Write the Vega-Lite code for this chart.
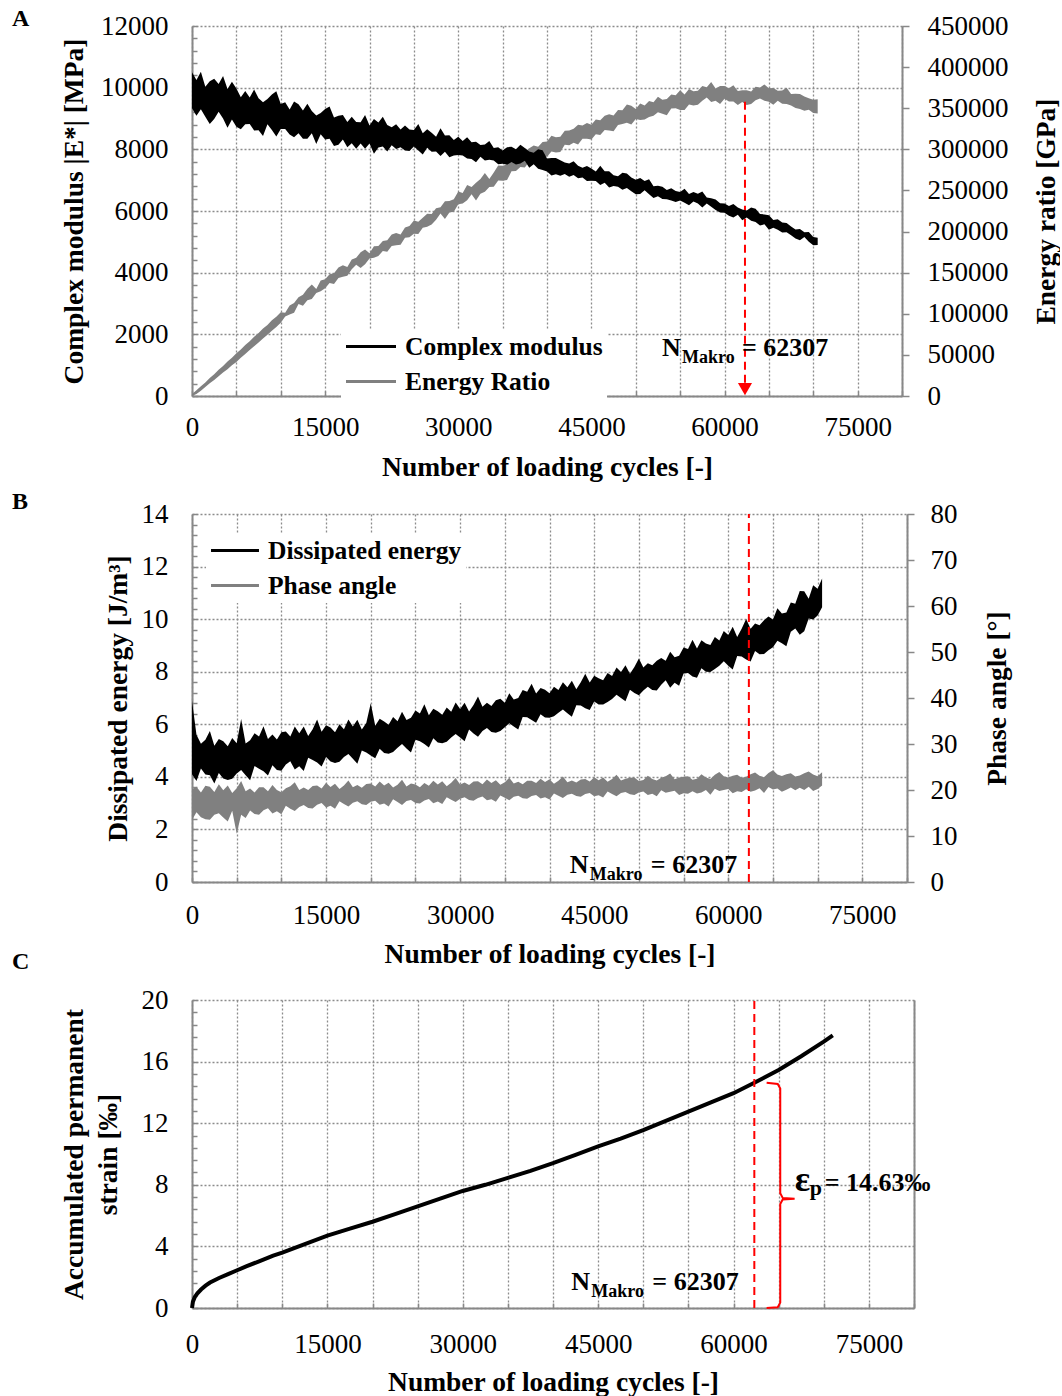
{
  "$schema": "https://vega.github.io/schema/vega-lite/v6.json",
  "padding": {"left": 12, "top": 7, "right": 0, "bottom": 0},
  "background": "white",
  "config": {
    "font": "Liberation Serif",
    "view": {"stroke": null},
    "axis": {"labelFont": "Liberation Serif", "labelFontSize": 27, "labelColor": "#000", "titleFont": "Liberation Serif", "titleFontSize": 27.5, "titleFontWeight": "bold", "titleColor": "#000", "domainColor": "#888", "domainWidth": 2, "tickColor": "#888", "tickWidth": 1.5, "gridColor": "#8c8c8c", "gridDash": [2, 2], "gridWidth": 1.3, "labelFlush": false, "labelOverlap": false, "labelBound": false, "tickCount": 200},
    "legend": {"labelFont": "Liberation Serif", "labelFontSize": 25.5, "labelFontWeight": "bold", "labelColor": "#000", "labelLimit": 500},
    "title": {"font": "Liberation Serif", "fontSize": 24, "fontWeight": "bold", "color": "#000", "anchor": "start", "frame": "group"}
  },
  "resolve": {"scale": {"color": "independent"}, "legend": {"color": "independent"}},
  "bounds": "flush",
  "spacing": 118,
  "datasets": {
    "a": [
{"n":0,"cl":9330,"ch":10500,"el":0,"eh":2500},{"n":500,"cl":9090,"ch":10250,"el":2500,"eh":7000},{"n":1000,"cl":9300,"ch":10520,"el":6500,"eh":12000},{"n":1500,"cl":9060,"ch":10030,"el":11000,"eh":16500},{"n":2000,"cl":8820,"ch":10210,"el":15500,"eh":22000},{"n":2500,"cl":8980,"ch":10290,"el":19500,"eh":26500},{"n":3000,"cl":9220,"ch":10120,"el":24000,"eh":32000},{"n":3500,"cl":9000,"ch":10380,"el":28500,"eh":36500},{"n":4000,"cl":8700,"ch":9960,"el":32500,"eh":42000},{"n":4500,"cl":8970,"ch":10190,"el":37500,"eh":46500},
{"n":5000,"cl":8730,"ch":9970,"el":41500,"eh":52000},{"n":5500,"cl":8650,"ch":9690,"el":46500,"eh":56500},{"n":6000,"cl":8810,"ch":9890,"el":51000,"eh":62000},{"n":6500,"cl":8820,"ch":9680,"el":56000,"eh":66500},{"n":7000,"cl":8610,"ch":9940,"el":60500,"eh":72000},{"n":7500,"cl":8620,"ch":9660,"el":65000,"eh":76500},{"n":8000,"cl":8430,"ch":9530,"el":70000,"eh":82000},{"n":8500,"cl":8810,"ch":9630,"el":74500,"eh":86500},{"n":9000,"cl":8630,"ch":9780,"el":79500,"eh":92000},{"n":9500,"cl":8420,"ch":9880,"el":84000,"eh":96500},
{"n":10000,"cl":8660,"ch":9470,"el":89000,"eh":102000},{"n":10500,"cl":8660,"ch":9530,"el":96800,"eh":101200},{"n":11000,"cl":8480,"ch":9290,"el":99100,"eh":110100},{"n":11500,"cl":8390,"ch":9550,"el":101200,"eh":113000},{"n":12000,"cl":8520,"ch":9460,"el":111800,"eh":120200},{"n":12500,"cl":8340,"ch":9260,"el":109700,"eh":123200},{"n":13000,"cl":8340,"ch":9480,"el":116600,"eh":130400},{"n":13500,"cl":8520,"ch":9240,"el":118000,"eh":135600},{"n":14000,"cl":8170,"ch":9100,"el":125300,"eh":130200},{"n":14500,"cl":8490,"ch":9180,"el":127400,"eh":140400},
{"n":15000,"cl":8320,"ch":9310,"el":130900,"eh":141900},{"n":15500,"cl":8340,"ch":9390,"el":137500,"eh":148000},{"n":16000,"cl":8110,"ch":9030,"el":136100,"eh":149400},{"n":16500,"cl":8150,"ch":9090,"el":143500,"eh":156200},{"n":17000,"cl":8320,"ch":9110,"el":144900,"eh":159100},{"n":17500,"cl":8070,"ch":8890,"el":146200,"eh":157000},{"n":18000,"cl":8200,"ch":9060,"el":154300,"eh":165900},{"n":18500,"cl":8020,"ch":8890,"el":159700,"eh":168000},{"n":19000,"cl":8190,"ch":8880,"el":155600,"eh":174900},{"n":19500,"cl":8020,"ch":9110,"el":160200,"eh":178300},
{"n":20000,"cl":8190,"ch":8770,"el":167100,"eh":173500},{"n":20500,"cl":7860,"ch":8980,"el":168000,"eh":182200},{"n":21000,"cl":8060,"ch":8870,"el":170400,"eh":182500},{"n":21500,"cl":8090,"ch":9060,"el":176500,"eh":188500},{"n":22000,"cl":7930,"ch":8790,"el":175500,"eh":189400},{"n":22500,"cl":8130,"ch":8720,"el":182400,"eh":196300},{"n":23000,"cl":8010,"ch":8810,"el":183300,"eh":198100},{"n":23500,"cl":8070,"ch":8640,"el":184100,"eh":196400},{"n":24000,"cl":7960,"ch":8770,"el":192400,"eh":204900},{"n":24500,"cl":7950,"ch":8640,"el":193200,"eh":206700},
{"n":25000,"cl":8090,"ch":8630,"el":197400,"eh":213500},{"n":25500,"cl":7960,"ch":8820,"el":197000,"eh":211800},{"n":26000,"cl":7830,"ch":8520,"el":204700,"eh":216800},{"n":26500,"cl":8050,"ch":8650,"el":205800,"eh":221600},{"n":27000,"cl":7920,"ch":8540,"el":208500,"eh":221200},{"n":27500,"cl":7930,"ch":8410,"el":214300,"eh":228300},{"n":28000,"cl":7780,"ch":8680,"el":222000,"eh":229500},{"n":28500,"cl":7920,"ch":8450,"el":215400,"eh":237000},{"n":29000,"cl":7740,"ch":8460,"el":223100,"eh":237300},{"n":29500,"cl":7800,"ch":8300,"el":224100,"eh":239300},
{"n":30000,"cl":7820,"ch":8410,"el":233200,"eh":248800},{"n":30500,"cl":7800,"ch":8270,"el":234000,"eh":246800},{"n":31000,"cl":7700,"ch":8390,"el":238100,"eh":256600},{"n":31500,"cl":7690,"ch":8230,"el":245400,"eh":254200},{"n":32000,"cl":7580,"ch":8250,"el":237900,"eh":259500},{"n":32500,"cl":7760,"ch":8140,"el":246000,"eh":264000},{"n":33000,"cl":7640,"ch":8160,"el":248300,"eh":271200},{"n":33500,"cl":7660,"ch":8270,"el":254300,"eh":263900},{"n":34000,"cl":7640,"ch":8040,"el":254600,"eh":271900},{"n":34500,"cl":7520,"ch":8070,"el":262000,"eh":280400},
{"n":35000,"cl":7530,"ch":7960,"el":261700,"eh":280000},{"n":35500,"cl":7500,"ch":8070,"el":262600,"eh":281600},{"n":36000,"cl":7590,"ch":8080,"el":273200,"eh":290200},{"n":36500,"cl":7510,"ch":8000,"el":273800,"eh":300400},{"n":37000,"cl":7540,"ch":8150,"el":278400,"eh":291800},{"n":37500,"cl":7630,"ch":8040,"el":278000,"eh":297000},{"n":38000,"cl":7400,"ch":7930,"el":284800,"eh":301400},{"n":38500,"cl":7520,"ch":7890,"el":285400,"eh":304800},{"n":39000,"cl":7370,"ch":8000,"el":286200,"eh":303200},{"n":39500,"cl":7330,"ch":7970,"el":291600,"eh":309000},
{"n":40000,"cl":7280,"ch":7700,"el":291000,"eh":309600},{"n":40500,"cl":7150,"ch":7720,"el":297400,"eh":316400},{"n":41000,"cl":7190,"ch":7720,"el":296200,"eh":314800},{"n":41500,"cl":7140,"ch":7650,"el":296800,"eh":315200},{"n":42000,"cl":7200,"ch":7570,"el":305600,"eh":322600},{"n":42500,"cl":7110,"ch":7540,"el":305000,"eh":323000},{"n":43000,"cl":7170,"ch":7610,"el":308000,"eh":325000},{"n":43500,"cl":7060,"ch":7470,"el":306000,"eh":330000},{"n":44000,"cl":7090,"ch":7400,"el":313000,"eh":329000},{"n":44500,"cl":6970,"ch":7460,"el":313000,"eh":332000},
{"n":45000,"cl":6980,"ch":7380,"el":312000,"eh":330000},{"n":45500,"cl":6970,"ch":7280,"el":318200,"eh":336200},{"n":46000,"cl":6840,"ch":7470,"el":317400,"eh":335400},{"n":46500,"cl":6920,"ch":7290,"el":323600,"eh":340800},{"n":47000,"cl":6760,"ch":7290,"el":322800,"eh":342600},{"n":47500,"cl":6810,"ch":7160,"el":322000,"eh":341000},{"n":48000,"cl":6790,"ch":7130,"el":329600,"eh":347800},{"n":48500,"cl":6690,"ch":7240,"el":330800,"eh":347600},{"n":49000,"cl":6750,"ch":7220,"el":332400,"eh":354400},{"n":49500,"cl":6640,"ch":7090,"el":330200,"eh":353000},
{"n":50000,"cl":6540,"ch":7010,"el":337000,"eh":349200},{"n":50500,"cl":6550,"ch":7070,"el":335600,"eh":355600},{"n":51000,"cl":6670,"ch":6970,"el":336200,"eh":353200},{"n":51500,"cl":6540,"ch":7030,"el":339400,"eh":358800},{"n":52000,"cl":6420,"ch":6800,"el":340800,"eh":357400},{"n":52500,"cl":6480,"ch":6820,"el":345000,"eh":364000},{"n":53000,"cl":6390,"ch":6790,"el":343200,"eh":360400},{"n":53500,"cl":6380,"ch":6680,"el":341400,"eh":361200},{"n":54000,"cl":6340,"ch":6740,"el":349600,"eh":366600},{"n":54500,"cl":6290,"ch":6650,"el":350000,"eh":365800},
{"n":55000,"cl":6340,"ch":6620,"el":347800,"eh":372000},{"n":55500,"cl":6270,"ch":6720,"el":347800,"eh":366800},{"n":56000,"cl":6190,"ch":6550,"el":354600,"eh":373400},{"n":56500,"cl":6310,"ch":6620,"el":353400,"eh":370600},{"n":57000,"cl":6240,"ch":6560,"el":354200,"eh":371200},{"n":57500,"cl":6110,"ch":6630,"el":359000,"eh":377000},{"n":58000,"cl":6240,"ch":6440,"el":363000,"eh":375500},{"n":58500,"cl":6140,"ch":6410,"el":357500,"eh":382000},{"n":59000,"cl":6030,"ch":6370,"el":359000,"eh":374000},{"n":59500,"cl":5950,"ch":6250,"el":355000,"eh":377000},
{"n":60000,"cl":5940,"ch":6240,"el":361600,"eh":376900},{"n":60500,"cl":5850,"ch":6160,"el":358200,"eh":374300},{"n":61000,"cl":5790,"ch":6230,"el":358100,"eh":378000},{"n":61500,"cl":5880,"ch":6110,"el":353800,"eh":370900},{"n":62000,"cl":5700,"ch":6050,"el":357500,"eh":372000},{"n":62500,"cl":5790,"ch":6020,"el":354000,"eh":371900},{"n":63000,"cl":5680,"ch":6110,"el":355100,"eh":370400},{"n":63500,"cl":5640,"ch":6070,"el":359800,"eh":376000},{"n":64000,"cl":5530,"ch":5900,"el":361700,"eh":375300},{"n":64500,"cl":5570,"ch":5890,"el":359100,"eh":378800},
{"n":65000,"cl":5390,"ch":5860,"el":358000,"eh":374200},{"n":65500,"cl":5460,"ch":5710,"el":354100,"eh":374500},{"n":66000,"cl":5390,"ch":5730,"el":359200,"eh":371200},{"n":66500,"cl":5300,"ch":5630,"el":355300,"eh":371500},{"n":67000,"cl":5310,"ch":5610,"el":355000,"eh":374800},{"n":67500,"cl":5210,"ch":5500,"el":353300,"eh":367300},{"n":68000,"cl":5110,"ch":5400,"el":350200,"eh":367700},{"n":68500,"cl":5050,"ch":5420,"el":349200,"eh":367200},{"n":69000,"cl":5160,"ch":5310,"el":346900,"eh":364400},{"n":69500,"cl":5000,"ch":5320,"el":348200,"eh":362200},
{"n":70000,"cl":4890,"ch":5160,"el":344100,"eh":360300},{"n":70500,"cl":4900,"ch":5130,"el":343700,"eh":360800}
    ],
    "b": [
{"n":0,"dl":4.10,"dh":6.9,"pl":13.5,"ph":20.15},{"n":500,"dl":3.84,"dh":5.60,"pl":15.17,"ph":20.72},{"n":1000,"dl":4.32,"dh":5.26,"pl":14.06,"ph":19.45},{"n":1500,"dl":4.09,"dh":5.41,"pl":13.65,"ph":20.94},{"n":2000,"dl":4.06,"dh":5.74,"pl":13.52,"ph":20.68},{"n":2500,"dl":3.75,"dh":5.18,"pl":14.6,"ph":19.55},{"n":3000,"dl":4.15,"dh":5.44,"pl":14.94,"ph":21.24},{"n":3500,"dl":3.94,"dh":5.35,"pl":14.03,"ph":19.95},{"n":4000,"dl":3.88,"dh":5.16,"pl":13.14,"ph":21.0},{"n":4500,"dl":3.93,"dh":5.48,"pl":15.5,"ph":19.34},
{"n":5000,"dl":4.13,"dh":5.28,"pl":10.5,"ph":20.38},{"n":5500,"dl":4.26,"dh":6.2,"pl":14.62,"ph":21.93},{"n":6000,"dl":4.06,"dh":5.27,"pl":13.93,"ph":19.74},{"n":6500,"dl":3.87,"dh":5.39,"pl":15.56,"ph":20.34},{"n":7000,"dl":4.41,"dh":5.66,"pl":14.78,"ph":19.46},{"n":7500,"dl":4.31,"dh":5.54,"pl":14.62,"ph":20.62},{"n":8000,"dl":4.21,"dh":5.93,"pl":15.58,"ph":20.58},{"n":8500,"dl":4.05,"dh":5.44,"pl":16.05,"ph":19.75},{"n":9000,"dl":4.44,"dh":5.61,"pl":14.87,"ph":21.07},{"n":9500,"dl":4.26,"dh":5.42,"pl":15.38,"ph":20.0},
{"n":10000,"dl":4.23,"dh":5.70,"pl":14.75,"ph":19.5},{"n":10500,"dl":4.47,"dh":5.73,"pl":16.59,"ph":20.37},{"n":11000,"dl":4.59,"dh":5.54,"pl":15.95,"ph":20.81},{"n":11500,"dl":4.28,"dh":5.92,"pl":15.42,"ph":21.66},{"n":12000,"dl":4.40,"dh":5.66,"pl":16.29,"ph":20.01},{"n":12500,"dl":4.22,"dh":5.92,"pl":16.72,"ph":20.56},{"n":13000,"dl":4.73,"dh":5.55,"pl":16.1,"ph":19.98},{"n":13500,"dl":4.64,"dh":5.81,"pl":15.96,"ph":20.86},{"n":14000,"dl":4.55,"dh":6.18,"pl":16.77,"ph":20.98},{"n":14500,"dl":4.39,"dh":5.72,"pl":17.19,"ph":20.34},
{"n":15000,"dl":4.76,"dh":5.96,"pl":16.17,"ph":21.56},{"n":15500,"dl":4.58,"dh":5.88,"pl":16.56,"ph":20.66},{"n":16000,"dl":4.53,"dh":5.70,"pl":15.94,"ph":21.38},{"n":16500,"dl":4.57,"dh":6.00,"pl":17.58,"ph":20.24},{"n":17000,"dl":4.76,"dh":5.81,"pl":16.96,"ph":20.96},{"n":17500,"dl":4.87,"dh":6.18,"pl":16.4,"ph":22.08},{"n":18000,"dl":4.69,"dh":5.92,"pl":17.24,"ph":20.58},{"n":18500,"dl":4.50,"dh":6.17,"pl":17.54,"ph":21.06},{"n":19000,"dl":5.00,"dh":5.80,"pl":16.92,"ph":20.48},{"n":19500,"dl":4.93,"dh":6.05,"pl":16.74,"ph":21.32},
{"n":20000,"dl":4.81,"dh":6.8,"pl":17.44,"ph":21.4},{"n":20500,"dl":4.71,"dh":5.94,"pl":17.69,"ph":20.74},{"n":21000,"dl":5.07,"dh":6.21,"pl":16.81,"ph":21.84},{"n":21500,"dl":4.91,"dh":6.11,"pl":17.05,"ph":20.97},{"n":22000,"dl":4.88,"dh":5.98,"pl":16.41,"ph":21.56},{"n":22500,"dl":4.95,"dh":6.28,"pl":17.99,"ph":20.55},{"n":23000,"dl":5.11,"dh":6.12,"pl":17.37,"ph":21.15},{"n":23500,"dl":5.25,"dh":6.48,"pl":16.76,"ph":22.21},{"n":24000,"dl":5.08,"dh":6.16,"pl":17.59,"ph":20.75},{"n":24500,"dl":4.93,"dh":6.25,"pl":17.82,"ph":21.4},
{"n":25000,"dl":5.41,"dh":6.52,"pl":17.2,"ph":21.18},{"n":25500,"dl":5.35,"dh":6.41,"pl":17.04,"ph":20.61},{"n":26000,"dl":5.25,"dh":6.76,"pl":17.72,"ph":21.5},{"n":26500,"dl":5.12,"dh":6.34,"pl":18.03,"ph":20.92},{"n":27000,"dl":5.47,"dh":6.59,"pl":17.14,"ph":22.02},{"n":27500,"dl":5.31,"dh":6.50,"pl":17.5,"ph":21.19},{"n":28000,"dl":5.28,"dh":6.36,"pl":16.94,"ph":21.9},{"n":28500,"dl":5.34,"dh":6.64,"pl":18.42,"ph":20.83},{"n":29000,"dl":5.50,"dh":6.48,"pl":17.86,"ph":21.55},{"n":29500,"dl":5.63,"dh":6.83,"pl":17.4,"ph":22.62},
{"n":30000,"dl":5.50,"dh":6.58,"pl":18.11,"ph":21.2},{"n":30500,"dl":5.35,"dh":6.82,"pl":18.42,"ph":21.62},{"n":31000,"dl":5.80,"dh":6.49,"pl":17.84,"ph":21.06},{"n":31500,"dl":5.65,"dh":6.73,"pl":17.66,"ph":21.84},{"n":32000,"dl":5.53,"dh":7.06,"pl":18.28,"ph":21.88},{"n":32500,"dl":5.74,"dh":6.67,"pl":18.56,"ph":21.27},{"n":33000,"dl":5.86,"dh":6.82,"pl":17.76,"ph":22.26},{"n":33500,"dl":5.71,"dh":6.70,"pl":17.99,"ph":21.5},{"n":34000,"dl":5.68,"dh":6.91,"pl":17.43,"ph":22.13},{"n":34500,"dl":5.74,"dh":6.97,"pl":18.81,"ph":21.13},
{"n":35000,"dl":5.89,"dh":6.82,"pl":18.29,"ph":21.71},{"n":35500,"dl":6.04,"dh":7.18,"pl":17.78,"ph":22.69},{"n":36000,"dl":5.92,"dh":6.94,"pl":18.51,"ph":21.39},{"n":36500,"dl":5.80,"dh":7.00,"pl":18.76,"ph":21.8},{"n":37000,"dl":6.28,"dh":7.30,"pl":18.22,"ph":21.26},{"n":37500,"dl":6.27,"dh":7.24,"pl":18.12,"ph":22.02},{"n":38000,"dl":6.16,"dh":7.54,"pl":18.7,"ph":22.03},{"n":38500,"dl":6.06,"dh":7.17,"pl":18.94,"ph":21.51},{"n":39000,"dl":6.38,"dh":7.38,"pl":18.17,"ph":22.46},{"n":39500,"dl":6.26,"dh":7.31,"pl":18.42,"ph":21.75},
{"n":40000,"dl":6.25,"dh":7.18,"pl":17.96,"ph":22.31},{"n":40500,"dl":6.31,"dh":7.43,"pl":19.25,"ph":21.38},{"n":41000,"dl":6.44,"dh":7.30,"pl":18.75,"ph":21.99},{"n":41500,"dl":6.56,"dh":7.60,"pl":18.27,"ph":22.92},{"n":42000,"dl":6.42,"dh":7.41,"pl":18.96,"ph":21.69},{"n":42500,"dl":6.29,"dh":7.66,"pl":19.21,"ph":22.09},{"n":43000,"dl":6.72,"dh":7.33,"pl":18.7,"ph":21.61},{"n":43500,"dl":6.71,"dh":7.60,"pl":18.55,"ph":22.3},{"n":44000,"dl":6.61,"dh":7.92,"pl":19.13,"ph":22.37},{"n":44500,"dl":6.54,"dh":7.59,"pl":19.37,"ph":21.86},
{"n":45000,"dl":6.87,"dh":7.85,"pl":18.62,"ph":22.79},{"n":45500,"dl":6.75,"dh":7.75,"pl":18.87,"ph":22.11},{"n":46000,"dl":6.75,"dh":7.68,"pl":18.36,"ph":22.71},{"n":46500,"dl":6.85,"dh":7.95,"pl":19.65,"ph":21.78},{"n":47000,"dl":6.96,"dh":7.84,"pl":19.15,"ph":22.39},{"n":47500,"dl":7.12,"dh":8.16,"pl":18.66,"ph":23.32},{"n":48000,"dl":7.00,"dh":7.99,"pl":19.36,"ph":22.08},{"n":48500,"dl":6.88,"dh":8.25,"pl":19.58,"ph":22.46},{"n":49000,"dl":7.31,"dh":7.92,"pl":19.06,"ph":22.66},{"n":49500,"dl":7.19,"dh":8.18,"pl":18.9,"ph":22.7},
{"n":50000,"dl":7.10,"dh":8.50,"pl":19.46,"ph":21.96},{"n":50500,"dl":7.29,"dh":8.16,"pl":19.68,"ph":22.18},{"n":51000,"dl":7.43,"dh":8.32,"pl":18.94,"ph":23.1},{"n":51500,"dl":7.30,"dh":8.25,"pl":19.16,"ph":22.4},{"n":52000,"dl":7.29,"dh":8.42,"pl":18.64,"ph":22.06},{"n":52500,"dl":7.50,"dh":8.52,"pl":19.92,"ph":22.64},{"n":53000,"dl":7.68,"dh":8.42,"pl":19.4,"ph":22.98},{"n":53500,"dl":7.39,"dh":8.76,"pl":19.6,"ph":23.56},{"n":54000,"dl":7.58,"dh":8.55,"pl":19.82,"ph":22.32},{"n":54500,"dl":7.47,"dh":8.61,"pl":18.9,"ph":22.7},
{"n":55000,"dl":7.93,"dh":8.92,"pl":19.3,"ph":22.9},{"n":55500,"dl":7.95,"dh":8.86,"pl":19.16,"ph":22.97},{"n":56000,"dl":7.82,"dh":9.22,"pl":19.73,"ph":22.22},{"n":56500,"dl":7.77,"dh":8.88,"pl":19.23,"ph":22.47},{"n":57000,"dl":8.13,"dh":9.20,"pl":19.48,"ph":23.4},{"n":57500,"dl":8.00,"dh":9.07,"pl":19.98,"ph":22.72},{"n":58000,"dl":7.99,"dh":9.02,"pl":18.97,"ph":22.39},{"n":58500,"dl":8.10,"dh":9.32,"pl":20.27,"ph":23.33},{"n":59000,"dl":8.23,"dh":9.19,"pl":19.77,"ph":23.94},{"n":59500,"dl":8.40,"dh":9.55,"pl":19.98,"ph":23.01},
{"n":60000,"dl":8.23,"dh":9.40,"pl":20.23,"ph":22.72},{"n":60500,"dl":8.08,"dh":9.71,"pl":19.3,"ph":23.11},{"n":61000,"dl":8.60,"dh":9.32,"pl":19.73,"ph":23.33},{"n":61500,"dl":8.58,"dh":9.63,"pl":19.58,"ph":22.64},{"n":62000,"dl":8.46,"dh":10.01,"pl":20.16,"ph":22.88},{"n":62500,"dl":8.39,"dh":9.63,"pl":19.64,"ph":23.4},{"n":63000,"dl":8.79,"dh":9.83,"pl":19.87,"ph":23.81},{"n":63500,"dl":8.66,"dh":9.77,"pl":20.39,"ph":23.11},{"n":64000,"dl":8.67,"dh":9.96,"pl":19.36,"ph":22.78},{"n":64500,"dl":8.82,"dh":10.10,"pl":20.64,"ph":23.7},
{"n":65000,"dl":8.93,"dh":9.99,"pl":20.12,"ph":24.29},{"n":65500,"dl":9.18,"dh":10.41,"pl":20.33,"ph":23.36},{"n":66000,"dl":9.08,"dh":10.21,"pl":19.63,"ph":23.05},{"n":66500,"dl":8.97,"dh":10.25,"pl":20.04,"ph":23.44},{"n":67000,"dl":9.52,"dh":10.63,"pl":20.56,"ph":23.64},{"n":67500,"dl":9.64,"dh":10.59,"pl":19.94,"ph":22.91},{"n":68000,"dl":9.41,"dh":11.07,"pl":20.49,"ph":23.14},{"n":68500,"dl":9.54,"dh":11.06,"pl":19.99,"ph":23.64},{"n":69000,"dl":10.02,"dh":10.78,"pl":20.72,"ph":24.04},{"n":69500,"dl":9.99,"dh":11.29,"pl":19.77,"ph":23.36},
{"n":70000,"dl":10.14,"dh":11.16,"pl":20.21,"ph":23.0},{"n":70500,"dl":10.45,"dh":11.55,"pl":20.98,"ph":23.87}
    ],
    "c": [
{"n":0,"s":0},{"n":100,"s":0.4},{"n":300,"s":0.7},{"n":600,"s":0.95},{"n":1000,"s":1.2},{"n":1500,"s":1.45},{"n":2000,"s":1.65},{"n":3000,"s":1.95},{"n":4000,"s":2.2},{"n":5000,"s":2.45},{"n":6000,"s":2.7},{"n":7500,"s":3.05},{"n":9000,"s":3.4},{"n":10000,"s":3.6},{"n":12500,"s":4.15},{"n":15000,"s":4.7},{"n":17500,"s":5.15},{"n":20000,"s":5.6},{"n":22500,"s":6.1},{"n":25000,"s":6.6},{"n":27500,"s":7.1},{"n":30000,"s":7.6},{"n":32500,"s":8.0},{"n":35000,"s":8.45},{"n":37500,"s":8.9},{"n":40000,"s":9.4},{"n":42500,"s":9.95},{"n":45000,"s":10.5},{"n":47500,"s":11.0},{"n":50000,"s":11.55},{"n":52500,"s":12.15},{"n":55000,"s":12.75},{"n":57500,"s":13.35},{"n":60000,"s":13.95},{"n":62307,"s":14.63},{"n":65000,"s":15.45},{"n":67500,"s":16.35},{"n":70000,"s":17.3},{"n":71000,"s":17.7}
    ]
  },
  "vconcat": [
    {
      "width": 710,
      "height": 370,
      "title": {"text": "A", "dx": -180, "offset": -19},
      "encoding": {"x": {"field": "n", "type": "quantitative", "scale": {"domain": [0, 80000], "nice": false, "zero": false}, "axis": {"values": [0,5000,10000,15000,20000,25000,30000,35000,40000,45000,50000,55000,60000,65000,70000,75000,80000], "format": "d", "labelExpr": "datum.value % 15000 === 0 ? datum.label : ''", "grid": true, "tickSize": -5, "labelPadding": 23, "title": "Number of loading cycles [-]", "titlePadding": 13}}},
      "resolve": {"scale": {"y": "independent"}, "axis": {"y": "independent"}},
      "layer": [
        {
          "layer": [
            {"data": {"name": "a"}, "mark": {"type": "area", "opacity": 1},
             "encoding": {
               "y": {"field": "el", "type": "quantitative", "scale": {"domain": [0, 450000], "nice": false, "zero": false},
                     "axis": {"orient": "right", "values": [0,50000,100000,150000,200000,250000,300000,350000,400000,450000], "format": "d", "grid": false, "tickSize": 7, "labelPadding": 18, "title": "Energy ratio [GPa]", "titleAngle": 270, "titleBaseline": "top", "titlePadding": 24}},
               "y2": {"field": "eh"},
               "color": {"datum": "Energy Ratio", "type": "nominal", "scale": {"domain": ["Complex modulus", "Energy Ratio"], "range": ["#000000", "#808080"]},
                         "legend": {"title": null, "orient": "none", "legendX": 149, "legendY": 304, "fillColor": "white", "padding": 4, "clipHeight": 25, "rowPadding": 9, "labelOffset": 8, "symbolType": "M-1,-0.06H1V0.06H-1Z", "symbolSize": 2500, "symbolOpacity": 1}}
             }},
            {"data": {"values": [{"n": 62307, "e0": 16000, "e1": 361000}]},
             "mark": {"type": "rule", "color": "#FF0000", "strokeWidth": 2, "strokeDash": [8, 5]},
             "encoding": {"y": {"field": "e0", "type": "quantitative", "scale": {"domain": [0, 450000], "nice": false, "zero": false}}, "y2": {"field": "e1"}}},
            {"data": {"values": [{"n": 62307, "e": 8500}]},
             "mark": {"type": "point", "shape": "triangle-down", "filled": true, "color": "#FF0000", "size": 200, "opacity": 1, "strokeWidth": 0},
             "encoding": {"y": {"field": "e", "type": "quantitative", "scale": {"domain": [0, 450000], "nice": false, "zero": false}}}}
          ]
        },
        {
          "layer": [
            {"data": {"name": "a"}, "mark": {"type": "area", "opacity": 1},
             "encoding": {
               "y": {"field": "cl", "type": "quantitative", "scale": {"domain": [0, 12000], "nice": false, "zero": false},
                     "axis": {"orient": "left", "values": [0,400,800,1200,1600,2000,2400,2800,3200,3600,4000,4400,4800,5200,5600,6000,6400,6800,7200,7600,8000,8400,8800,9200,9600,10000,10400,10800,11200,11600,12000], "format": "d", "labelExpr": "datum.value % 2000 === 0 ? datum.label : ''", "grid": true, "gridOpacity": {"condition": {"test": "datum.value % 2000 === 0", "value": 1}, "value": 0}, "tickSize": -5, "labelPadding": 29, "title": "Complex modulus |E*| [MPa]", "titlePadding": 12}},
               "y2": {"field": "ch"},
               "color": {"datum": "Complex modulus", "type": "nominal", "scale": {"domain": ["Complex modulus", "Energy Ratio"], "range": ["#000000", "#808080"]},
                         "legend": {"title": null, "orient": "none", "legendX": 149, "legendY": 304, "fillColor": "white", "padding": 4, "clipHeight": 25, "rowPadding": 9, "labelOffset": 8, "symbolType": "M-1,-0.06H1V0.06H-1Z", "symbolSize": 2500, "symbolOpacity": 1}}
             }},
            {"data": {"values": [{"n": 62307, "v": 1300, "a": "N", "b": "Makro", "c": "= 62307"}]},
             "encoding": {"y": {"field": "v", "type": "quantitative", "scale": {"domain": [0, 12000], "nice": false, "zero": false}}},
             "layer": [
               {"mark": {"type": "text", "align": "left", "baseline": "alphabetic", "dx": -83, "fontSize": 26, "fontWeight": "bold", "font": "Liberation Serif", "color": "#000"}, "encoding": {"text": {"field": "a"}}},
               {"mark": {"type": "text", "align": "left", "baseline": "alphabetic", "dx": -63, "dy": 7, "fontSize": 18, "fontWeight": "bold", "font": "Liberation Serif", "color": "#000"}, "encoding": {"text": {"field": "b"}}},
               {"mark": {"type": "text", "align": "left", "baseline": "alphabetic", "dx": -3, "fontSize": 26, "fontWeight": "bold", "font": "Liberation Serif", "color": "#000"}, "encoding": {"text": {"field": "c"}}}
             ]}
          ]
        }
      ]
    },
    {
      "width": 715,
      "height": 368,
      "title": {"text": "B", "dx": -180, "offset": -14},
      "encoding": {"x": {"field": "n", "type": "quantitative", "scale": {"domain": [0, 80000], "nice": false, "zero": false}, "axis": {"values": [0,5000,10000,15000,20000,25000,30000,35000,40000,45000,50000,55000,60000,65000,70000,75000,80000], "format": "d", "labelExpr": "datum.value % 15000 === 0 ? datum.label : ''", "grid": true, "tickSize": -5, "labelPadding": 25, "title": "Number of loading cycles [-]", "titlePadding": 12}}},
      "resolve": {"scale": {"y": "independent"}, "axis": {"y": "independent"}},
      "layer": [
        {
          "layer": [
            {"data": {"name": "b"}, "mark": {"type": "area", "opacity": 1},
             "encoding": {
               "y": {"field": "pl", "type": "quantitative", "scale": {"domain": [0, 80], "nice": false, "zero": false},
                     "axis": {"orient": "right", "values": [0,10,20,30,40,50,60,70,80], "format": "d", "grid": false, "tickSize": 7, "labelPadding": 16, "title": "Phase angle [°]", "titleAngle": 270, "titleBaseline": "top", "titlePadding": 26}},
               "y2": {"field": "ph"},
               "color": {"datum": "Phase angle", "type": "nominal", "scale": {"domain": ["Dissipated energy", "Phase angle"], "range": ["#000000", "#808080"]},
                         "legend": {"title": null, "orient": "none", "legendX": 14, "legendY": 20, "fillColor": "white", "padding": 4, "clipHeight": 25, "rowPadding": 9, "labelOffset": 8, "symbolType": "M-1,-0.06H1V0.06H-1Z", "symbolSize": 2300, "symbolOpacity": 1}}
             }}
          ]
        },
        {
          "layer": [
            {"data": {"name": "b"}, "mark": {"type": "area", "opacity": 1},
             "encoding": {
               "y": {"field": "dl", "type": "quantitative", "scale": {"domain": [0, 14], "nice": false, "zero": false},
                     "axis": {"orient": "left", "values": [0,0.4,0.8,1.2,1.6,2,2.4,2.8,3.2,3.6,4,4.4,4.8,5.2,5.6,6,6.4,6.8,7.2,7.6,8,8.4,8.8,9.2,9.6,10,10.4,10.8,11.2,11.6,12,12.4,12.8,13.2,13.6,14], "tickMinStep": 0.1, "labelExpr": "datum.value % 2 === 0 ? format(datum.value, 'd') : ''", "grid": true, "gridOpacity": {"condition": {"test": "datum.value % 2 === 0", "value": 1}, "value": 0}, "tickSize": -5, "labelPadding": 29, "title": "Dissipated energy [J/m³]", "titlePadding": 9}},
               "y2": {"field": "dh"},
               "color": {"datum": "Dissipated energy", "type": "nominal", "scale": {"domain": ["Dissipated energy", "Phase angle"], "range": ["#000000", "#808080"]},
                         "legend": {"title": null, "orient": "none", "legendX": 14, "legendY": 20, "fillColor": "white", "padding": 4, "clipHeight": 25, "rowPadding": 9, "labelOffset": 8, "symbolType": "M-1,-0.06H1V0.06H-1Z", "symbolSize": 2300, "symbolOpacity": 1}}
             }},
            {"data": {"values": [{"n": 62307, "d0": 0, "d1": 14}]},
             "mark": {"type": "rule", "color": "#FF0000", "strokeWidth": 2, "strokeDash": [8, 5]},
             "encoding": {"y": {"field": "d0", "type": "quantitative", "scale": {"domain": [0, 14], "nice": false, "zero": false}}, "y2": {"field": "d1"}}},
            {"data": {"values": [{"n": 62307, "v": 0.35, "a": "N", "b": "Makro", "c": "= 62307"}]},
             "encoding": {"y": {"field": "v", "type": "quantitative", "scale": {"domain": [0, 14], "nice": false, "zero": false}}},
             "layer": [
               {"mark": {"type": "text", "align": "left", "baseline": "alphabetic", "dx": -179, "fontSize": 26, "fontWeight": "bold", "font": "Liberation Serif", "color": "#000"}, "encoding": {"text": {"field": "a"}}},
               {"mark": {"type": "text", "align": "left", "baseline": "alphabetic", "dx": -159, "dy": 7, "fontSize": 18, "fontWeight": "bold", "font": "Liberation Serif", "color": "#000"}, "encoding": {"text": {"field": "b"}}},
               {"mark": {"type": "text", "align": "left", "baseline": "alphabetic", "dx": -98, "fontSize": 26, "fontWeight": "bold", "font": "Liberation Serif", "color": "#000"}, "encoding": {"text": {"field": "c"}}}
             ]}
          ]
        }
      ]
    },
    {
      "width": 722,
      "height": 308,
      "title": {"text": "C", "dx": -180, "offset": 12},
      "encoding": {"x": {"field": "n", "type": "quantitative", "scale": {"domain": [0, 80000], "nice": false, "zero": false}, "axis": {"values": [0,5000,10000,15000,20000,25000,30000,35000,40000,45000,50000,55000,60000,65000,70000,75000,80000], "format": "d", "labelExpr": "datum.value % 15000 === 0 ? datum.label : ''", "grid": true, "tickSize": -5, "labelPadding": 28, "title": "Number of loading cycles [-]", "titlePadding": 11}}},
      "resolve": {"axis": {"y": "independent"}},
      "layer": [
        {"data": {"name": "c"}, "mark": {"type": "line", "color": "#000000", "strokeWidth": 4},
         "encoding": {"y": {"field": "s", "type": "quantitative", "scale": {"domain": [0, 20], "nice": false, "zero": false},
                            "axis": {"orient": "left", "values": [0,0.8,1.6,2.4,3.2,4,4.8,5.6,6.4,7.2,8,8.8,9.6,10.4,11.2,12,12.8,13.6,14.4,15.2,16,16.8,17.6,18.4,19.2,20], "tickMinStep": 0.1, "labelExpr": "datum.value % 4 === 0 ? format(datum.value, 'd') : ''", "grid": true, "gridOpacity": {"condition": {"test": "datum.value % 4 === 0", "value": 1}, "value": 0}, "tickSize": -5, "labelPadding": 29, "title": ["Accumulated permanent", "strain [‰]"], "titleLineHeight": 34, "titlePadding": 19}}}},
        {"data": {"values": [{"n": 62307, "s0": 0, "s1": 20}]},
         "mark": {"type": "rule", "color": "#FF0000", "strokeWidth": 2, "strokeDash": [8, 5]},
         "encoding": {"y": {"field": "s0", "type": "quantitative", "scale": {"domain": [0, 20], "nice": false, "zero": false}, "axis": null}, "y2": {"field": "s1"}}},
        {"data": {"values": [{"n":63670,"s":14.63,"o":1},{"n":64900,"s":14.55,"o":2},{"n":65180,"s":14.25,"o":3},{"n":65180,"s":7.45,"o":4},{"n":65450,"s":7.15,"o":5},{"n":66770,"s":7.1,"o":6},{"n":65450,"s":7.05,"o":7},{"n":65180,"s":6.75,"o":8},{"n":65180,"s":0.35,"o":9},{"n":64900,"s":0.05,"o":10},{"n":63670,"s":0,"o":11}]},
         "mark": {"type": "line", "color": "#FF0000", "strokeWidth": 2},
         "encoding": {"y": {"field": "s", "type": "quantitative", "scale": {"domain": [0, 20], "nice": false, "zero": false},
                            "axis": {"orient": "right", "labels": false, "ticks": false, "grid": false, "title": null, "domainColor": "#888", "domainWidth": 2}},
                      "order": {"field": "o", "type": "quantitative"}}},
        {"data": {"values": [{"n": 62307, "v": 1.17, "a": "N", "b": "Makro", "c": "= 62307"}]},
         "encoding": {"y": {"field": "v", "type": "quantitative", "scale": {"domain": [0, 20], "nice": false, "zero": false}, "axis": null}},
         "layer": [
           {"mark": {"type": "text", "align": "left", "baseline": "alphabetic", "dx": -183, "fontSize": 26, "fontWeight": "bold", "font": "Liberation Serif", "color": "#000"}, "encoding": {"text": {"field": "a"}}},
           {"mark": {"type": "text", "align": "left", "baseline": "alphabetic", "dx": -163, "dy": 7, "fontSize": 18, "fontWeight": "bold", "font": "Liberation Serif", "color": "#000"}, "encoding": {"text": {"field": "b"}}},
           {"mark": {"type": "text", "align": "left", "baseline": "alphabetic", "dx": -102, "fontSize": 26, "fontWeight": "bold", "font": "Liberation Serif", "color": "#000"}, "encoding": {"text": {"field": "c"}}}
         ]},
        {"data": {"values": [{"n": 66773, "v": 7.6, "a": "ε", "b": "p", "c": "= 14.63‰"}]},
         "encoding": {"y": {"field": "v", "type": "quantitative", "scale": {"domain": [0, 20], "nice": false, "zero": false}, "axis": null}},
         "layer": [
           {"mark": {"type": "text", "align": "left", "baseline": "alphabetic", "dx": 0, "fontSize": 36, "fontWeight": "bold", "font": "Liberation Serif", "color": "#000"}, "encoding": {"text": {"field": "a"}}},
           {"mark": {"type": "text", "align": "left", "baseline": "alphabetic", "dx": 15, "dy": 4, "fontSize": 22, "fontWeight": "bold", "font": "Liberation Serif", "color": "#000"}, "encoding": {"text": {"field": "b"}}},
           {"mark": {"type": "text", "align": "left", "baseline": "alphabetic", "dx": 30, "fontSize": 26, "fontWeight": "bold", "font": "Liberation Serif", "color": "#000"}, "encoding": {"text": {"field": "c"}}}
         ]}
      ]
    }
  ]
}
